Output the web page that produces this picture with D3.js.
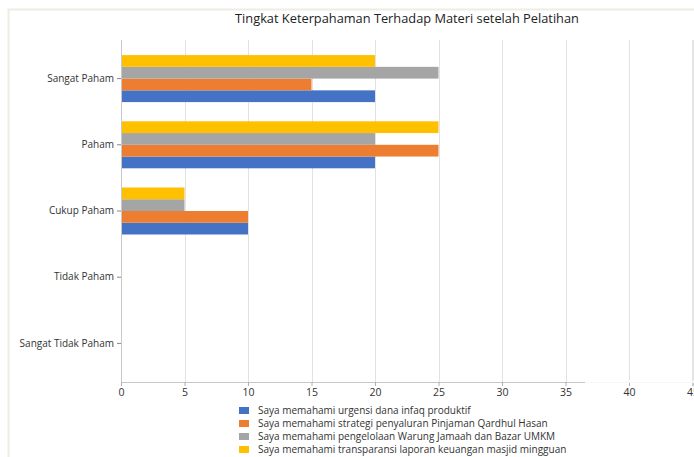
<!DOCTYPE html>
<html><head><meta charset="utf-8">
<script src="https://cdn.jsdelivr.net/npm/d3@7"></script>
<style>body{margin:0;background:#fff}svg{display:block;font-family:"Open Sans",Roboto,sans-serif}</style>
</head><body>
<script>
const title = "Tingkat Keterpahaman Terhadap Materi setelah Pelatihan";
const categories = ["Sangat Paham","Paham","Cukup Paham","Tidak Paham","Sangat Tidak Paham"];
const seriesNames = [
  "Saya memahami urgensi dana infaq produktif",
  "Saya memahami strategi penyaluran Pinjaman Qardhul Hasan",
  "Saya memahami pengelolaan Warung Jamaah dan Bazar UMKM",
  "Saya memahami transparansi laporan keuangan masjid mingguan"
];
const urgensi      = [20,20,10,0,0];
const strategi     = [15,25,10,0,0];
const pengelolaan  = [25,20,5,0,0];
const transparansi = [20,25,5,0,0];
const colors = ["#4472C4","#ED7D31","#A5A5A5","#FFC000"];
const xTicks = [0,5,10,15,20,25,30,35,40,45];

(function(){
const series = [urgensi, strategi, pengelolaan, transparansi];
const W=694,H=457;
const svg=d3.select("body").append("svg").attr("width",W).attr("height",H);

// frame
svg.append("line").attr("x1",8.5).attr("x2",8.5).attr("y1",9).attr("y2",H).attr("stroke","#efece2").attr("stroke-width",2);
svg.append("line").attr("x1",8).attr("x2",W).attr("y1",9.5).attr("y2",9.5).attr("stroke","#efece2").attr("stroke-width",2);

const x=d3.scaleLinear().domain([0,45]).range([121,692.5]);
const y=d3.scaleBand().domain(categories).range([45.5,376.5]);
const inner=y.bandwidth()*0.71;
const yi=d3.scaleBand().domain([3,2,1,0]).range([0,inner]);
const yTop=40,yBot=382;

// gridlines
svg.append("g").selectAll("line").data(xTicks.slice(1)).join("line")
  .attr("x1",d=>Math.round(x(d))+0.5).attr("x2",d=>Math.round(x(d))+0.5)
  .attr("y1",yTop).attr("y2",yBot).attr("stroke","#e2e2e2").attr("stroke-width",1);

// bars
series.forEach((vals,si)=>{
  svg.append("g").selectAll("rect").data(categories).join("rect")
    .attr("x",x(0)).attr("width",(d,i)=>x(vals[i])-x(0))
    .attr("y",d=>y(d)+(y.bandwidth()-inner)/2+yi(si))
    .attr("height",yi.bandwidth())
    .attr("fill",colors[si]);
});

// x axis
const xa=svg.append("g").attr("transform",`translate(0,${yBot})`)
  .call(d3.axisBottom(x).tickValues(xTicks).tickSize(4).tickPadding(3));
xa.select(".domain").attr("stroke","#c8c8c8");
xa.selectAll(".tick line").attr("stroke","#b0b0b0");
xa.selectAll("text").attr("font-size",10.5).attr("fill","#333").attr("font-family","'Open Sans', sans-serif");
// faded axis segment on right
svg.append("rect").attr("x",585).attr("y",yBot-1.5).attr("width",W-585).attr("height",2.5).attr("fill","#fff").attr("opacity",0.85);

// y axis
const ya=svg.append("g").attr("transform",`translate(${x(0)},0)`)
  .call(d3.axisLeft(y).tickSize(4).tickPadding(3));
ya.select(".domain").attr("d",`M0.5,${yTop}V${yBot}`).attr("stroke","#c8c8c8");
ya.selectAll(".tick line").attr("stroke","#888");
ya.selectAll("text").attr("font-size",10).attr("fill","#333").attr("font-family","'Open Sans', sans-serif");

// right faint line
svg.append("line").attr("x1",692.5).attr("x2",692.5).attr("y1",yTop).attr("y2",yBot).attr("stroke","#e6e6e6");

// title
svg.append("text").attr("x",407).attr("y",23).attr("text-anchor","middle")
  .attr("font-size",12.8).attr("fill","#222").text(title);

// legend
const lg=svg.append("g");
seriesNames.forEach((n,i)=>{
  const yy=410.5+i*13;
  lg.append("rect").attr("x",239).attr("y",yy-3.5).attr("width",10).attr("height",7).attr("fill",colors[i]);
  lg.append("text").attr("x",258).attr("y",yy).attr("dy","0.35em").attr("font-size",10).attr("fill","#333").text(n);
});
})();
</script>
</body></html>
